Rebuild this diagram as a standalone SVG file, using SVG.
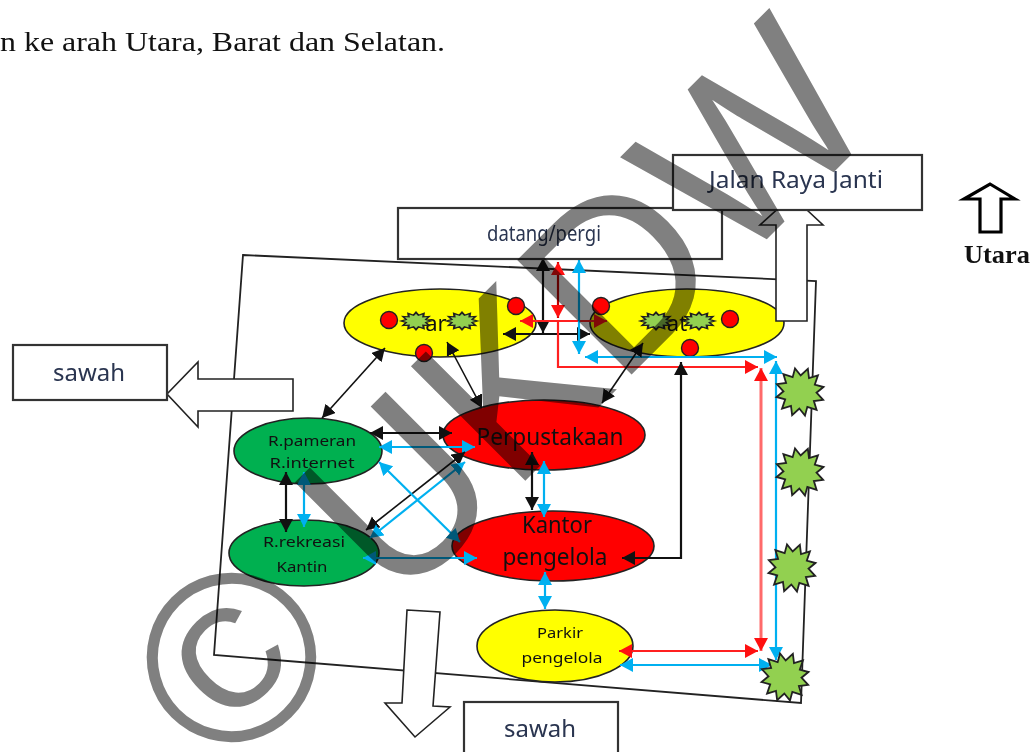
<svg xmlns="http://www.w3.org/2000/svg" width="1033" height="752" viewBox="0 0 1033 752">
<style>
text{font-family:"Noto Sans","DejaVu Sans",sans-serif;fill:#111}
.box{fill:#fff;stroke:#333;stroke-width:2.2}
.blk{fill:#fff;stroke:#222;stroke-width:1.6}
.lab{fill:#2a3550}
.e{stroke:#222;stroke-width:1.6}
.y{fill:#ffff00}.g{fill:#00b050}.r{fill:#ff0000}
.dot{fill:#ff0000;stroke:#222;stroke-width:1.4}
.bush{fill:#92d050;stroke:#222;stroke-width:1.8}
.sb{stroke-width:3.4}
.k,.b,.d{fill:none;stroke-width:2.2}
.k{stroke:#111;marker-start:url(#mk);marker-end:url(#mk)}
.b{stroke:#00b0f0;marker-start:url(#mb);marker-end:url(#mb)}
.d{stroke:#ff2020;marker-start:url(#md);marker-end:url(#md)}
.wm{font-family:"Liberation Sans",sans-serif;fill:#808080;mix-blend-mode:multiply}
</style>
<defs>
<marker id="mk" markerUnits="userSpaceOnUse" markerWidth="15" markerHeight="15" refX="13" refY="7" orient="auto-start-reverse"><path d="M0 0L13 7L0 14z" fill="#111"/></marker>
<marker id="mb" markerUnits="userSpaceOnUse" markerWidth="15" markerHeight="15" refX="13" refY="7" orient="auto-start-reverse"><path d="M0 0L13 7L0 14z" fill="#00b0f0"/></marker>
<marker id="md" markerUnits="userSpaceOnUse" markerWidth="15" markerHeight="15" refX="13" refY="7" orient="auto-start-reverse"><path d="M0 0L13 7L0 14z" fill="#ff1010"/></marker>
<polygon id="star" points="24,0 16,4.1 21,12.5 11.7,11.7 12.5,21 4.1,16 0,24 -4.1,16 -12.5,21 -11.7,11.7 -21,12.5 -16,4.1 -24,0 -16,-4.1 -21,-12.5 -11.7,-11.7 -12.5,-21 -4.1,-16 0,-24 4.1,-16 12.5,-21 11.7,-11.7 21,-12.5 16,-4.1"/>
</defs>
<rect width="1033" height="752" fill="#fff"/>
<text x="0" y="51" lengthAdjust="spacingAndGlyphs" textLength="445" style="font-family:'Liberation Serif',serif;font-size:28px">n ke arah Utara, Barat dan Selatan.</text>
<polygon id="boundary" points="243,255 816,281 801,703 214,655" fill="none" stroke="#222" stroke-width="1.8"/>

<g id="node-parkir-kiri"><ellipse class="e y" cx="440" cy="323" rx="96" ry="34"/><text x="436" y="331" text-anchor="middle" font-size="22">ar</text>
<use href="#star" class="bush sb" transform="translate(416,321) scale(.62,.36)"/><use href="#star" class="bush sb" transform="translate(462,321) scale(.64,.36)"/>
<circle class="dot" cx="389" cy="320" r="8.5"/><circle class="dot" cx="516" cy="306" r="8.5"/><circle class="dot" cx="424" cy="353" r="8.5"/></g>
<g id="node-parkir-kanan"><ellipse class="e y" cx="687" cy="323" rx="97" ry="34"/><text x="677" y="331" text-anchor="middle" font-size="22">at</text>
<use href="#star" class="bush sb" transform="translate(656,321) scale(.66,.36)"/><use href="#star" class="bush sb" transform="translate(699,321) scale(.66,.36)"/>
<circle class="dot" cx="601" cy="306" r="8.5"/><circle class="dot" cx="730" cy="319" r="8.5"/><circle class="dot" cx="690" cy="348" r="8.5"/></g>
<g id="node-pameran"><ellipse class="e g" cx="308" cy="451" rx="74" ry="33"/><text x="312" y="446" text-anchor="middle" font-size="15" lengthAdjust="spacingAndGlyphs" textLength="88">R.pameran</text><text x="312" y="468" text-anchor="middle" font-size="15" lengthAdjust="spacingAndGlyphs" textLength="85">R.internet</text></g>
<g id="node-rekreasi"><ellipse class="e g" cx="304" cy="553" rx="75" ry="33"/><text x="304" y="547" text-anchor="middle" font-size="15" lengthAdjust="spacingAndGlyphs" textLength="82">R.rekreasi</text><text x="302" y="572" text-anchor="middle" font-size="15" lengthAdjust="spacingAndGlyphs" textLength="51">Kantin</text></g>
<g id="node-perpustakaan"><ellipse class="e r" cx="544" cy="435" rx="101" ry="35"/><text x="550" y="445" text-anchor="middle" font-size="23" lengthAdjust="spacingAndGlyphs" textLength="147">Perpustakaan</text></g>
<g id="node-kantor"><ellipse class="e r" cx="553" cy="546" rx="101" ry="35"/><text x="557" y="533" text-anchor="middle" font-size="23" lengthAdjust="spacingAndGlyphs" textLength="70">Kantor</text><text x="555" y="565" text-anchor="middle" font-size="23" lengthAdjust="spacingAndGlyphs" textLength="105">pengelola</text></g>
<g id="node-parkir-pengelola"><ellipse class="e y" cx="555" cy="646" rx="78" ry="36"/><text x="560" y="638" text-anchor="middle" font-size="14" lengthAdjust="spacingAndGlyphs" textLength="46">Parkir</text><text x="562" y="663" text-anchor="middle" font-size="14" lengthAdjust="spacingAndGlyphs" textLength="81">pengelola</text></g>

<g id="connectors">
<line class="k" x1="543" y1="258" x2="543" y2="333"/>
<line class="k" x1="503" y1="334" x2="590" y2="334"/>
<line class="d" x1="558" y1="262" x2="558" y2="318" style="stroke:#c00000"/>
<line class="d" x1="520" y1="321" x2="607" y2="321"/>
<path d="M558 320V367H758" fill="none" stroke="#ff2020" stroke-width="2.2" marker-end="url(#md)"/>
<path d="M761 368V651" class="d" style="stroke:#ff6a6a;stroke-width:3"/>
<line class="d" x1="619" y1="651" x2="758" y2="651"/>
<line class="b" x1="579" y1="260" x2="579" y2="354"/>
<line class="b" x1="585" y1="357" x2="777" y2="357"/>
<line class="b" x1="776" y1="361" x2="776" y2="660"/>
<line class="b" x1="620" y1="665" x2="772" y2="665"/>
<path class="k" d="M681 362V558H622"/>
<line class="k" style="stroke-width:1.6" x1="385" y1="348" x2="322" y2="418"/>
<line class="k" style="stroke-width:1.6" x1="447" y1="342" x2="482" y2="408"/>
<line class="k" style="stroke-width:1.6" x1="643" y1="343" x2="602" y2="403"/>
<line class="k" x1="370" y1="433" x2="452" y2="433"/>
<line class="b" x1="379" y1="447" x2="475" y2="447"/>
<line class="k" style="stroke-width:1.6" x1="465" y1="452" x2="366" y2="530"/>
<line class="b" x1="465" y1="462" x2="370" y2="538"/>
<line class="b" x1="379" y1="462" x2="460" y2="542"/>
<line class="b" x1="363" y1="558" x2="477" y2="558"/>
<line class="k" x1="286" y1="472" x2="286" y2="532"/>
<line class="b" x1="304" y1="472" x2="304" y2="527"/>
<line class="k" x1="532" y1="452" x2="532" y2="510"/>
<line class="b" x1="544" y1="461" x2="544" y2="517"/>
<line class="b" x1="545" y1="572" x2="545" y2="609"/>
</g>

<g id="bushes">
<use href="#star" class="bush" transform="translate(800,392) rotate(-12)"/>
<use href="#star" class="bush" transform="translate(800,472) rotate(-12)"/>
<use href="#star" class="bush" transform="translate(792,568) rotate(-12)"/>
<use href="#star" class="bush" transform="translate(785,677) rotate(-12)"/>
</g>

<g id="arrow-utara"><polygon class="blk" points="776,321 776,225 760,225 792,196 823,225 807,225 807,321"/></g>
<g id="arrow-barat"><polygon class="blk" points="293,379 198,379 198,362 167,394 198,427 198,411 293,411"/></g>
<g id="arrow-selatan"><polygon class="blk" points="407,610 440,612 433,706 450,707 415,737 385,703 402,703"/></g>
<g id="node-datang"><rect class="box" x="398" y="208" width="324" height="51"/><text class="lab" x="544" y="241" text-anchor="middle" font-size="21" lengthAdjust="spacingAndGlyphs" textLength="114">datang/pergi</text></g>
<g id="node-jalan"><rect class="box" x="673" y="155" width="249" height="55"/><text class="lab" x="796" y="188" text-anchor="middle" font-size="23" lengthAdjust="spacingAndGlyphs" textLength="174">Jalan Raya Janti</text></g>
<g id="node-sawah-barat"><rect class="box" x="13" y="345" width="154" height="55"/><text class="lab" x="89" y="381" text-anchor="middle" font-size="23" lengthAdjust="spacingAndGlyphs" textLength="72">sawah</text></g>
<g id="node-sawah-selatan"><rect class="box" x="464" y="702" width="154" height="60"/><text class="lab" x="540" y="737" text-anchor="middle" font-size="23" lengthAdjust="spacingAndGlyphs" textLength="72">sawah</text></g>
<g id="utara"><polygon points="980,232 980,199 964,199 990,184 1015,199 1001,199 1001,232" fill="#fff" stroke="#000" stroke-width="3.2"/><text x="964" y="263" lengthAdjust="spacingAndGlyphs" textLength="66" style="font-family:'Liberation Serif',serif;font-weight:700;font-size:26px">Utara</text></g>

<g id="watermark">
<text class="wm" font-size="235" transform="translate(397,609) rotate(-45) scale(.96,1)">UKDW</text>
<text class="wm" font-size="240" text-anchor="middle" transform="translate(232,658) rotate(-45) translate(0,82)">©</text>
</g>
</svg>
